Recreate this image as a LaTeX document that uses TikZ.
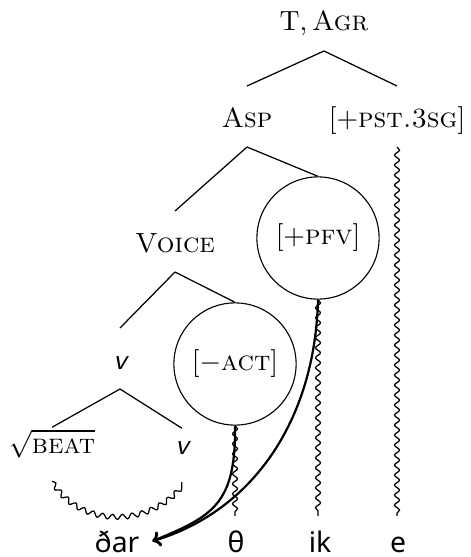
\documentclass[tikz,border=0pt]{standalone}
\usepackage{fontspec}
\newfontfamily\wordfont{Noto Sans}
\usetikzlibrary{decorations.pathmorphing, arrows.meta}

\begin{document}
\begin{tikzpicture}[x=0.36pt, y=-0.36pt,
  lbl/.style={inner xsep=1pt, inner ysep=7pt, text height=7.56pt, text depth=0pt},
  leaf/.style={lbl, inner ysep=1.5pt},
  feat/.style={draw, circle, minimum size=44pt, inner sep=0pt},
  cat/.style={font=\sffamily\itshape\fontsize{10.5}{12}\selectfont},
  word/.style={font=\wordfont\fontsize{10.2}{12}\selectfont, inner xsep=0pt, inner ysep=5pt, text height=7.8pt, text depth=0pt, anchor=base},
  branch/.style={line width=0.45pt},
  wave/.style={line width=0.45pt, decorate, decoration={snake, amplitude=0.9pt, segment length=3.6pt}},
  link/.style={line width=0.8pt, -{To[length=2.8pt, width=5.5pt]}}]

\useasboundingbox (0,0) rectangle (470,557);

% tree labels
\node[lbl] (TAgr) at (324,20.5) {T,\,\textsc{Agr}};
\node[lbl] (Asp) at (247,116.5) {\textsc{Asp}};
\node[lbl] (pst) at (397,116.5) {[+\textsc{pst.3sg}]};
\node[lbl] (Voice) at (175,241.5) {\textsc{Voice}};
\node[feat] (pfv) at (318,238) {[+\textsc{pfv}]};
\node[feat] (act) at (235,364) {[$-$\textsc{act}]};
\node[lbl, cat] (v) at (120,358.5) {v};
\node[leaf] (beat) at (52,442.5) {$\sqrt{\textsc{beat}}$};
\node[leaf, cat] (v2) at (182,443.5) {v};

% exponents
\node[word] (dar) at (117,552) {ðar};
\node[word] (theta) at (236,552) {θ};
\node[word] (ik) at (320,552) {ik};
\node[word] (e) at (398,552) {e};

% branches
\draw[branch] (TAgr.south) -- (Asp.north);
\draw[branch] (TAgr.south) -- (pst.north);
\draw[branch] (Asp.south) -- (Voice.north);
\draw[branch] (Asp.south) -- (pfv.north);
\draw[branch] (Voice.south) -- (v.north);
\draw[branch] (Voice.south) -- (act.north);
\draw[branch] (v.south) -- (beat.north);
\draw[branch] (v.south) -- (v2.north);

% realisation lines
\draw[wave] ([yshift=-8.5pt]beat.south) .. controls +(28,45) and +(-32,43) .. ([yshift=-8.5pt]v2.south);
\draw[wave] (act.south) -- (act.south |- theta.north);
\draw[wave] (pfv.south) -- (pfv.south |- ik.north);
\draw[wave] (pst.south) -- (pst.south |- e.north);

% displacement to the root exponent
\draw[link] (act.south) .. controls +(1,79) and +(60,-25) .. ([xshift=4.5pt]dar.east);
\draw[link] (pfv.south) .. controls +(-3,121) and +(100,-30) .. ([xshift=4.5pt]dar.east);
\end{tikzpicture}
\end{document}
